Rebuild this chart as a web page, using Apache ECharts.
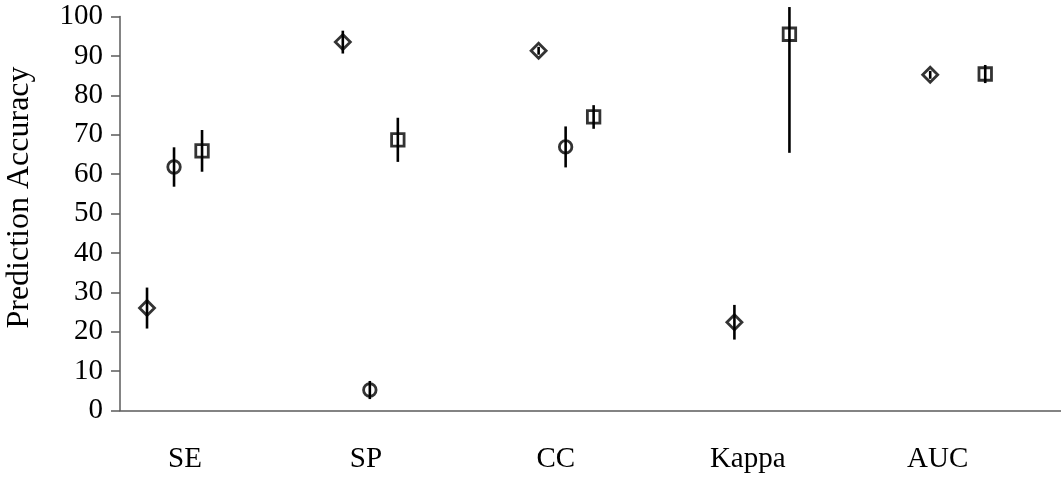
<!DOCTYPE html>
<html>
<head>
<meta charset="utf-8">
<title>Prediction Accuracy</title>
<script src="https://cdn.jsdelivr.net/npm/echarts@6/dist/echarts.min.js"></script>
<style>
  html, body { margin: 0; padding: 0; background: #fff; }
  #chart { width: 1061px; height: 481px; }
</style>
</head>
<body>
<div id="chart"></div>
<script>
// Measures on the horizontal axis
const categories = ['SE', 'SP', 'CC', 'Kappa', 'AUC'];

// Three models: mean accuracy and half-width of the error bar
const diamondMean = [26.0, 93.5, 91.3, 22.4, 85.2];
const diamondErr  = [5.2, 2.9, 1.0, 4.4, 1.0];
const circleMean  = [61.8, 5.2, 66.9, null, null];
const circleErr   = [5.0, 2.3, 5.2, null, null];
const squareMean  = [65.9, 68.7, 74.5, 95.5, 85.4];
const squareErr   = [5.3, 5.6, 3.0, 30.1, 2.3];

// Value-axis ticks
const yTicks = [0, 10, 20, 30, 40, 50, 60, 70, 80, 90, 100];

// Where each category name sits along the x scale (category k is centred at k+1)
const labelAnchors = [1.056, 1.98, 2.95, 3.93, 4.90];

// Horizontal shift of each model within a category, in category units
const OFFSET = { diamond: -0.138, circle: 0, square: 0.143 };
// Error bars are cut a little above the top of the value axis
const BAR_CEILING = 102.4;

function points(means, shift) {
  return means.map((m, i) => m == null ? null : [i + 1 + shift, m]);
}
function bars(means, errs, shift) {
  const out = [];
  means.forEach((m, i) => {
    if (m == null || errs[i] == null) return;
    out.push([i + 1 + shift, m - errs[i], Math.min(m + errs[i], BAR_CEILING)]);
  });
  return out;
}

const FONT = 'Liberation Serif, Times New Roman, serif';
const AXIS_COLOR = '#5b5b5b';

function markerSeries(name, means, shift, symbol, size) {
  return {
    name, type: 'scatter', symbol, symbolSize: size,
    data: points(means, shift).filter(p => p),
    itemStyle: { color: 'rgba(0,0,0,0)', borderColor: '#000', borderWidth: 2.8 },
    z: 3
  };
}
function errorSeries(means, errs, shift) {
  return {
    type: 'custom', clip: false, z: 4,
    data: bars(means, errs, shift),
    renderItem: (params, api) => {
      const x = api.value(0);
      const a = api.coord([x, api.value(1)]);
      const b = api.coord([x, api.value(2)]);
      return {
        type: 'line',
        shape: { x1: a[0], y1: a[1], x2: b[0], y2: b[1] },
        style: { stroke: '#000', lineWidth: 2.6 }
      };
    }
  };
}

const chart = echarts.init(document.getElementById('chart'));
chart.setOption({
  animation: false,
  backgroundColor: '#fff',
  grid: { left: 120, right: 0, top: 16.5, bottom: 70.5, containLabel: false, outerBoundsMode: 'none' },
  xAxis: {
    type: 'value', min: 0.724, max: 5.53,
    axisLine: { show: true, onZero: false, lineStyle: { color: AXIS_COLOR, width: 1.5 } },
    axisTick: { show: false },
    splitLine: { show: false },
    axisLabel: {
      customValues: labelAnchors,
      formatter: (v) => {
        const k = labelAnchors.findIndex(a => Math.abs(a - v) < 1e-6);
        return k >= 0 ? categories[k] : '';
      },
      margin: 34, color: '#000', fontFamily: FONT, fontSize: 29
    }
  },
  yAxis: {
    type: 'value', min: 0, max: 100, interval: 10,
    name: 'Prediction Accuracy', nameLocation: 'middle', nameGap: 84,
    nameTextStyle: { color: '#000', fontFamily: FONT, fontSize: 32, padding: [0, 0, 0, 32] },
    axisLine: { show: true, lineStyle: { color: AXIS_COLOR, width: 1.5 } },
    axisTick: { show: true, inside: false, length: 9, lineStyle: { color: AXIS_COLOR, width: 1.5 } },
    splitLine: { show: false },
    axisLabel: {
      customValues: yTicks,
      margin: 17, color: '#000', fontFamily: FONT, fontSize: 29
    }
  },
  series: [
    markerSeries('diamond', diamondMean, OFFSET.diamond, 'diamond', 15),
    markerSeries('circle', circleMean, OFFSET.circle, 'circle', 12.5),
    markerSeries('square', squareMean, OFFSET.square, 'rect', 12.5),
    errorSeries(diamondMean, diamondErr, OFFSET.diamond),
    errorSeries(circleMean, circleErr, OFFSET.circle),
    errorSeries(squareMean, squareErr, OFFSET.square)
  ]
});
</script>
</body>
</html>
